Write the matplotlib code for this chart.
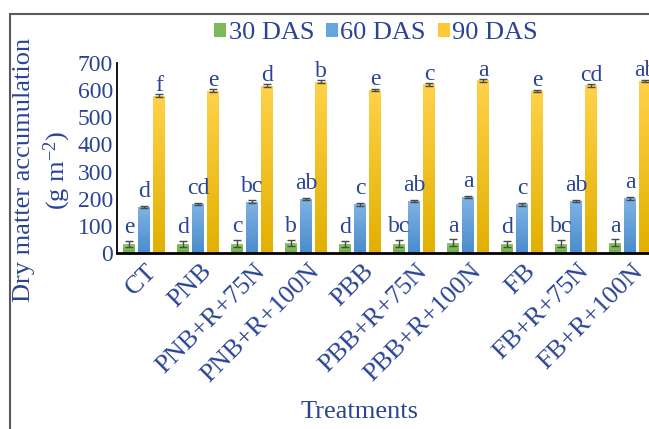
import numpy as np
import matplotlib
matplotlib.use("Agg")
import matplotlib.pyplot as plt
from matplotlib.colors import LinearSegmentedColormap
from matplotlib.patches import Patch, Rectangle
from matplotlib.transforms import ScaledTranslation

plt.rcParams["font.family"] = ["Liberation Serif", "DejaVu Serif"]
plt.rcParams["mathtext.fontset"] = "custom"
plt.rcParams["mathtext.rm"] = "Liberation Serif"
plt.rcParams["mathtext.it"] = "Liberation Serif:italic"

# ---- data -------------------------------------------------------------
treatments = ["CT", "PNB", "PNB+R+75N", "PNB+R+100N", "PBB", "PBB+R+75N",
              "PBB+R+100N", "FB", "FB+R+75N", "FB+R+100N"]
series_names = ["30 DAS", "60 DAS", "90 DAS"]

das30 = [33, 34, 35, 37, 34, 35, 38, 34, 35, 38]
das60 = [170, 182, 189, 200, 180, 192, 206, 180, 192, 202]
das90 = [580, 598, 617, 631, 601, 621, 636, 597, 618, 634]

err30 = [12, 12, 12, 12, 12, 12, 12, 12, 12, 12]
err60 = [5, 4, 5, 4, 5, 5, 4, 5, 5, 5]
err90 = [5, 5, 5, 5, 5, 5, 5, 5, 5, 5]

letters30 = ["e", "d", "c", "b", "d", "bc", "a", "d", "bc", "a"]
letters60 = ["d", "cd", "bc", "ab", "c", "ab", "a", "c", "ab", "a"]
letters90 = ["f", "e", "d", "b", "e", "c", "a", "e", "cd", "ab"]

yticks = [0, 100, 200, 300, 400, 500, 600, 700]

# ---- styling ----------------------------------------------------------
text_color = "#2A4494"
grad_colors = [
    ("#6FAE48", "#90C86E"),   # green, bottom -> top
    ("#4A8CCD", "#80B3E4"),   # blue
    ("#E2B000", "#FFD24A"),   # yellow
]
legend_colors = ["#7DB85A", "#67A5DE", "#FFC933"]
label_offsets_px = [11, 10, 4.5]

W, H = 649, 429
fig = plt.figure(figsize=(W / 100, H / 100), dpi=100)
ax = fig.add_axes([117 / W, (H - 253) / H, (657 - 117) / W, 190 / H])

x = np.arange(len(treatments))
bar_w = 0.222
step = 0.278

values = [das30, das60, das90]
errors = [err30, err60, err90]
letters = [letters30, letters60, letters90]

grad = np.linspace(0, 1, 256).reshape(-1, 1)
for k in range(3):
    xs = x + (k - 1) * step
    cmap = LinearSegmentedColormap.from_list(f"g{k}", list(grad_colors[k]))
    bars = ax.bar(xs, values[k], width=bar_w, color=grad_colors[k][0],
                  zorder=2, linewidth=0)
    for b in bars:
        x0, w_, h_ = b.get_x(), b.get_width(), b.get_height()
        im = ax.imshow(grad, extent=(x0, x0 + w_, 0, h_), origin="lower",
                       cmap=cmap, aspect="auto", zorder=2.5,
                       interpolation="bilinear")
        im.set_clip_path(b)
    ax.errorbar(xs, values[k], yerr=errors[k], fmt="none",
                ecolor="#4A4A4A", elinewidth=1.0, capsize=3,
                capthick=1.0, zorder=3)
    off_pt = label_offsets_px[k] * 0.72
    for xi, v, lab in zip(xs, values[k], letters[k]):
        ax.annotate(lab, (xi, v), xytext=(0, off_pt),
                    textcoords="offset points", ha="center", va="baseline",
                    fontsize=17, color=text_color, zorder=4,
                    annotation_clip=False)

ax.set_xlim(-0.5, 9.5)
ax.set_ylim(0, 700)
ax.set_yticks(yticks)
ax.set_yticklabels([str(t) for t in yticks])
ax.set_xticks(x)
ax.set_xticklabels(treatments)

for s in ["top", "right"]:
    ax.spines[s].set_visible(False)
ax.spines["left"].set_linewidth(1.3)
ax.spines["left"].set_color("black")
ax.spines["bottom"].set_linewidth(2.0)
ax.spines["bottom"].set_color("black")

ax.tick_params(axis="y", length=0, pad=3, labelsize=17, labelcolor=text_color)
ax.tick_params(axis="x", length=0, pad=5, labelsize=19, labelcolor=text_color)
shift = ScaledTranslation(2 / 100, 0, fig.dpi_scale_trans)
for lbl in ax.get_xticklabels():
    lbl.set_rotation(45)
    lbl.set_ha("right")
    lbl.set_va("top")
    lbl.set_rotation_mode("anchor")
    lbl.set_transform(lbl.get_transform() + shift)

# axis titles
fig.text(43 / W, 1 - 170 / H, "Dry matter accumulation\n(g m$^{\\mathrm{-2}}$)",
         rotation=90, ha="center", va="center", fontsize=19,
         color=text_color, linespacing=1.25, multialignment="center")
fig.text(360 / W, 1 - 412 / H, "Treatments", ha="center", va="center",
         fontsize=19, color=text_color)

# legend
handles = [Patch(facecolor=c, edgecolor="none") for c in legend_colors]
fig.legend(handles, series_names, loc="center",
           bbox_to_anchor=(376 / W, 1 - 33 / H), ncol=3, frameon=False,
           fontsize=19, labelcolor=text_color, handlelength=0.45,
           handleheight=0.45, handletextpad=0.1, columnspacing=0.45,
           borderpad=0, borderaxespad=0)

# outer frame
fig.patches.append(Rectangle((10 / W, -0.2), 2.0, 0.2 + 1 - 14 / H,
                             transform=fig.transFigure, fill=False,
                             edgecolor="#5A5A5A", linewidth=1.5))

fig.savefig("out.png", dpi=100)
